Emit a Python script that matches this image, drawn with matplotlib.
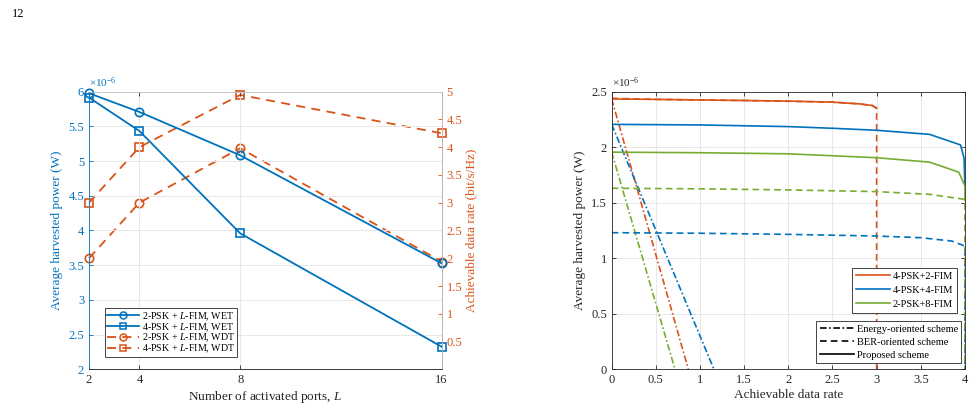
import numpy as np
import matplotlib
matplotlib.use('Agg')
from matplotlib import pyplot as plt
from matplotlib.lines import Line2D

plt.rcParams['font.family'] = ['Liberation Serif', 'DejaVu Serif']
plt.rcParams['mathtext.fontset'] = 'custom'
plt.rcParams['mathtext.rm'] = 'Liberation Serif'
plt.rcParams['mathtext.it'] = 'Liberation Serif:italic'
plt.rcParams['xtick.direction'] = 'in'
plt.rcParams['ytick.direction'] = 'in'

BLUE = '#0072BD'
ORANGE = '#D95319'
GREEN = '#77AC30'
AXC = '#262626'
GRID = '#e8e8e8'

# ---- left chart data (power in units of 1e-6 W) ----
L_ports = [2, 4, 8, 16]
wet_2psk = [5.976, 5.707, 5.083, 3.527]
wet_4psk = [5.914, 5.433, 3.959, 2.326]
wdt_2psk = [2.0, 3.0, 3.98, 1.94]
wdt_4psk = [3.0, 4.0, 4.94, 4.25]

# ---- right chart data (power in units of 1e-6 W) ----
rate_prop_42 = [0, 0.5, 1, 1.5, 2, 2.5, 2.8, 2.95, 3.0]
pow_prop_42 = [2.434, 2.43, 2.425, 2.42, 2.415, 2.405, 2.39, 2.375, 2.35]
rate_prop_44 = [0, 1, 2, 2.5, 3, 3.6, 3.95, 3.99, 4.0]
pow_prop_44 = [2.205, 2.2, 2.185, 2.17, 2.152, 2.115, 2.02, 1.9, 1.65]
rate_prop_28 = [0, 1, 2, 3, 3.6, 3.93, 4.0, 4.0]
pow_prop_28 = [1.955, 1.95, 1.94, 1.905, 1.865, 1.775, 1.65, 1.52]

rate_ber_42 = [0, 0.5, 1, 1.5, 2, 2.5, 2.8, 2.95, 3.0, 3.0]
pow_ber_42 = [2.44, 2.43, 2.425, 2.42, 2.413, 2.405, 2.39, 2.375, 2.35, 0]
rate_ber_44 = [0, 1, 2, 3, 3.5, 3.85, 4.0, 4.0]
pow_ber_44 = [1.23, 1.225, 1.215, 1.20, 1.185, 1.155, 1.11, 0]
rate_ber_28 = [0, 1, 2, 3, 3.6, 4.0, 4.0]
pow_ber_28 = [1.63, 1.625, 1.615, 1.60, 1.575, 1.53, 0]

rate_en_42 = [0, 0.868]
pow_en_42 = [2.434, 0]
rate_en_44 = [0, 1.158]
pow_en_44 = [2.205, 0]
rate_en_28 = [0, 0.717]
pow_en_28 = [1.955, 0]

fig = plt.figure(figsize=(9.74, 4.09), dpi=100)
fig.text(12/974, 1 - 14/409, '12', fontsize=9, va='center', ha='left')

# ================= left chart =================
ax = fig.add_axes([0.0914, 0.097, 0.362, 0.679])
ax2 = ax.twinx()
ax.set_zorder(ax2.get_zorder() + 1)
ax.patch.set_visible(False)

lw = 1.3
ax.plot(L_ports, wet_2psk, '-o', color=BLUE, lw=lw, ms=6, mfc='none', mew=1.2, clip_on=False)
ax.plot(L_ports, wet_4psk, '-s', color=BLUE, lw=lw, ms=5.5, mfc='none', mew=1.2, clip_on=False)
dash = (0, (5, 3.5))
ax2.plot(L_ports, wdt_2psk, 'o', ls=dash, color=ORANGE, lw=lw, ms=6, mfc='none', mew=1.2, clip_on=False)
ax2.plot(L_ports, wdt_4psk, 's', ls=dash, color=ORANGE, lw=lw, ms=5.5, mfc='none', mew=1.2, clip_on=False)

ax.set_xlim(2, 16)
ax.set_ylim(2, 6)
ax2.set_ylim(0, 5)
ax.set_xticks(L_ports)
ax.set_yticks(np.arange(2, 6.01, 0.5))
ax.set_yticklabels(['%g' % v for v in np.arange(2, 6.01, 0.5)])
ax2.set_yticks(np.arange(0.5, 5.01, 0.5))
ax2.set_yticklabels(['%g' % v for v in np.arange(0.5, 5.01, 0.5)])
ax.grid(True, color=GRID, lw=0.7)
ax.set_axisbelow(True)

for a in (ax, ax2):
    a.tick_params(labelsize=9, length=3, width=0.6)
    for s in a.spines.values():
        s.set_linewidth(0.6)
        s.set_color('#bfbfbf')
ax.spines['left'].set_color(BLUE)
ax.spines['bottom'].set_color(AXC)
ax2.spines['right'].set_color(ORANGE)
ax.tick_params(axis='y', colors=BLUE)
ax.tick_params(axis='x', colors=AXC, top=True)
ax2.tick_params(axis='y', colors=ORANGE)

ax.set_xlabel('Number of activated ports, $L$', fontsize=9.5, color=AXC, labelpad=2)
ax.set_ylabel('Average harvested power (W)', fontsize=9.5, color=BLUE, labelpad=4)
ax2.set_ylabel('Achievable data rate (bit/s/Hz)', fontsize=9.5, color=ORANGE, labelpad=2)
ax.text(0.0, 1.005, r'$\times10^{-6}$', transform=ax.transAxes, fontsize=8,
        color=BLUE, ha='left', va='bottom')

leg_handles = [
    Line2D([], [], color=BLUE, lw=lw, marker='o', ms=5, mfc='none', mew=1.1),
    Line2D([], [], color=BLUE, lw=lw, marker='s', ms=4.5, mfc='none', mew=1.1),
    Line2D([], [], color=ORANGE, lw=lw, ls=dash, marker='o', ms=5, mfc='none', mew=1.1),
    Line2D([], [], color=ORANGE, lw=lw, ls=dash, marker='s', ms=4.5, mfc='none', mew=1.1),
]
leg_labels = ['2-PSK + $L$-FIM, WET', '4-PSK + $L$-FIM, WET',
              '2-PSK + $L$-FIM, WDT', '4-PSK + $L$-FIM, WDT']
leg = ax.legend(leg_handles, leg_labels, loc='lower left', bbox_to_anchor=(0.045, 0.043),
                fontsize=7.2, fancybox=False, edgecolor=AXC, framealpha=1,
                handlelength=3.2, handletextpad=0.3, borderpad=0.2,
                labelspacing=-0.15, borderaxespad=0)
leg.get_frame().set_linewidth(0.6)

# ================= right chart =================
bx = fig.add_axes([0.628, 0.097, 0.3627, 0.679])
lw2 = 1.2
dash2 = (0, (4, 2.5))
dashdot = (0, (4, 1.5, 1, 1.5))

bx.plot(rate_en_42, pow_en_42, color=ORANGE, lw=lw2, ls=dashdot)
bx.plot(rate_en_44, pow_en_44, color=BLUE, lw=lw2, ls=dashdot)
bx.plot(rate_en_28, pow_en_28, color=GREEN, lw=lw2, ls=dashdot)
bx.plot(rate_ber_42, pow_ber_42, color=ORANGE, lw=lw2, ls=dash2)
bx.plot(rate_ber_44, pow_ber_44, color=BLUE, lw=lw2, ls=dash2)
bx.plot(rate_ber_28, pow_ber_28, color=GREEN, lw=lw2, ls=dash2)
p1, = bx.plot(rate_prop_42, pow_prop_42, color=ORANGE, lw=lw2)
p2, = bx.plot(rate_prop_44, pow_prop_44, color=BLUE, lw=lw2)
p3, = bx.plot(rate_prop_28, pow_prop_28, color=GREEN, lw=lw2)

bx.set_xlim(0, 4)
bx.set_ylim(0, 2.5)
bx.set_xticks(np.arange(0, 4.01, 0.5))
bx.set_xticklabels(['%g' % v for v in np.arange(0, 4.01, 0.5)])
bx.set_yticks(np.arange(0, 2.51, 0.5))
bx.set_yticklabels(['%g' % v for v in np.arange(0, 2.51, 0.5)])
bx.grid(True, color=GRID, lw=0.7)
bx.set_axisbelow(True)
bx.tick_params(labelsize=9, length=3, width=0.6, colors=AXC, top=True, right=True)
for s in bx.spines.values():
    s.set_linewidth(0.6)
    s.set_color(AXC)
bx.set_xlabel('Achievable data rate', fontsize=9.5, color=AXC, labelpad=2)
bx.set_ylabel('Average harvested power (W)', fontsize=9.5, color=AXC, labelpad=4)
bx.text(0.0, 1.005, r'$\times10^{-6}$', transform=bx.transAxes, fontsize=8,
        color=AXC, ha='left', va='bottom')

leg1 = bx.legend([p1, p2, p3], ['4-PSK+2-FIM', '4-PSK+4-FIM', '2-PSK+8-FIM'],
                 loc='lower right', bbox_to_anchor=(0.977, 0.202),
                 fontsize=7.5, fancybox=False, edgecolor=AXC, framealpha=1,
                 handlelength=3.3, handletextpad=0.2, borderpad=0.4,
                 labelspacing=0.45, borderaxespad=0)
leg1.get_frame().set_linewidth(0.6)
bx.add_artist(leg1)

scheme_handles = [
    Line2D([], [], color='black', lw=lw2, ls=dashdot),
    Line2D([], [], color='black', lw=lw2, ls=dash2),
    Line2D([], [], color='black', lw=lw2),
]
leg2 = bx.legend(scheme_handles, ['Energy-oriented scheme', 'BER-oriented scheme', 'Proposed scheme'],
                 loc='lower right', bbox_to_anchor=(0.99, 0.022),
                 fontsize=7.5, fancybox=False, edgecolor=AXC, framealpha=1,
                 handlelength=3.3, handletextpad=0.2, borderpad=0.35,
                 labelspacing=0.35, borderaxespad=0)
leg2.get_frame().set_linewidth(0.6)

plt.savefig('out.png', dpi=100)
